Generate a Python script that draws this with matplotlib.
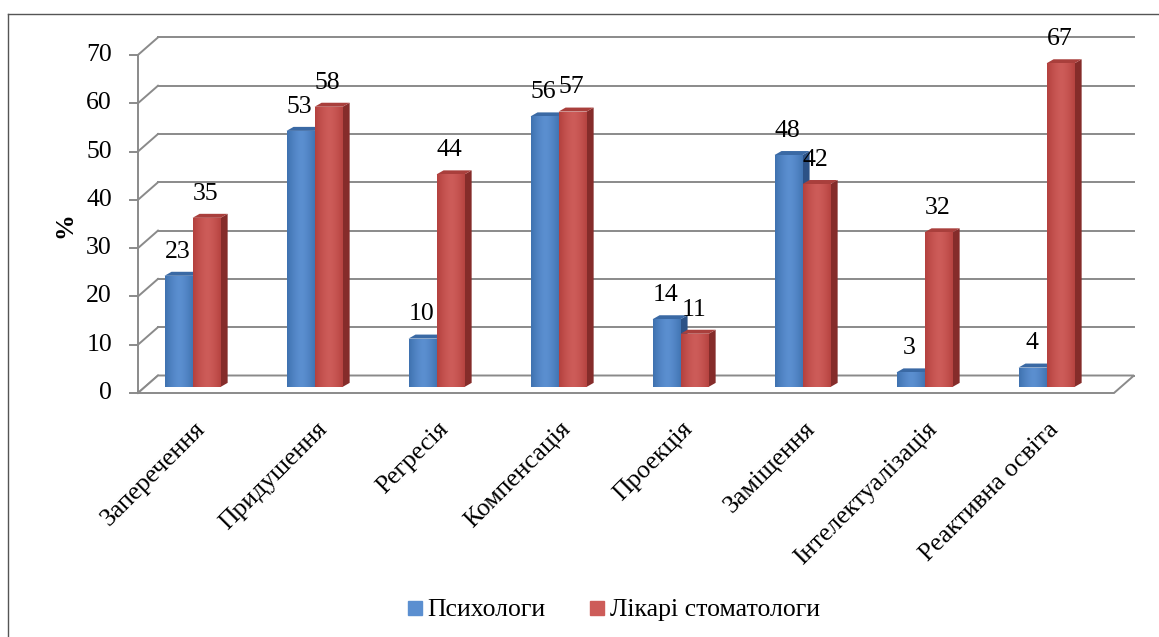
import numpy as np
import matplotlib.pyplot as plt
from matplotlib.patches import Polygon
from matplotlib.lines import Line2D

categories = ["Заперечення", "Придушення", "Регресія", "Компенсація",
              "Проекція", "Заміщення", "Інтелектуалізація", "Реактивна освіта"]
psychologists = [23, 53, 10, 56, 14, 48, 3, 4]
dentists = [35, 58, 44, 57, 11, 42, 32, 67]
series_names = ["Психологи", "Лікарі стоматологи"]
yticks = [0, 10, 20, 30, 40, 50, 60, 70]

plt.rcParams['font.family'] = ['Liberation Serif', 'DejaVu Serif']
FS = 18.5

W, H = 1159, 637
fig = plt.figure(figsize=(W / 100, H / 100), dpi=100)
ax = fig.add_axes([0, 0, 1, 1])

# one category = 122 px, one percent = 4.83 px, origin at pixel (138, 393)
PXX, PXY = 122.0, 4.83
ax.set_xlim(-138 / PXX, (W - 138) / PXX)
ax.set_ylim(-(H - 393) / PXY, 393 / PXY)
ax.axis('off')

n = len(categories)
DX, DY = 20 / PXX, 17.5 / PXY        # floor / wall depth
F = 0.35                              # depth position of bars
BDX, BDY = 7 / PXX, 4 / PXY           # bar thickness in depth
BW = 0.23
grid_c = '#8a8a8a'
glw = 1.4

# back wall gridlines + left diagonals
for v in yticks:
    ax.plot([DX, n + DX], [v + DY, v + DY], color=grid_c, lw=glw, zorder=1)
    ax.plot([0, DX], [v, v + DY], color=grid_c, lw=glw, zorder=1)
    ax.plot([-8 / PXX, 0], [v, v], color=grid_c, lw=glw, zorder=1)
    ax.text(-26 / PXX, v, str(v), ha='right', va='center', fontsize=FS)
ax.plot([0, 0], [0, yticks[-1]], color=grid_c, lw=glw, zorder=1)

# floor
ax.add_patch(Polygon([[0, 0], [n, 0], [n + DX, DY], [DX, DY]], closed=True,
                     facecolor='white', edgecolor=grid_c, lw=glw, zorder=1.5))

ax.text(-73 / PXX, 34.8, "%", rotation=90, ha='center', va='center',
        fontsize=FS, fontweight='bold')

styles = [
    dict(front=('#3f72b0', '#5b8fd0'), side='#2c5286', top='#3a69a4'),
    dict(front=('#b4413e', '#cd5c59'), side='#852c2a', top='#a93f3c'),
]


def draw_bar(x0, v, st, z):
    bx, by = x0 + F * DX, F * DY
    front = [[bx, by], [bx + BW, by], [bx + BW, by + v], [bx, by + v]]
    side = [[bx + BW, by], [bx + BW + BDX, by + BDY],
            [bx + BW + BDX, by + v + BDY], [bx + BW, by + v]]
    top = [[bx, by + v], [bx + BW, by + v],
           [bx + BW + BDX, by + v + BDY], [bx + BDX, by + v + BDY]]
    ax.add_patch(Polygon(side, closed=True, facecolor=st['side'], edgecolor='none', zorder=z))
    ax.add_patch(Polygon(top, closed=True, facecolor=st['top'], edgecolor='none', zorder=z))
    fp = Polygon(front, closed=True, facecolor=st['front'][0], edgecolor='none', zorder=z)
    ax.add_patch(fp)
    # horizontal shading on the front face
    c0 = np.array(plt.matplotlib.colors.to_rgb(st['front'][0]))
    c1 = np.array(plt.matplotlib.colors.to_rgb(st['front'][1]))
    t = np.abs(np.linspace(-1, 1, 40))
    grad = (c1[None, :] * (1 - t[:, None] ** 1.5) + c0[None, :] * t[:, None] ** 1.5)[None, :, :]
    im = ax.imshow(grad, extent=[bx, bx + BW, by, by + v], aspect='auto',
                   zorder=z + 0.01, interpolation='bilinear')
    im.set_clip_path(fp)
    return bx + BW / 2, by + v


for i in range(n):
    x0 = i + 0.16
    for k, vals in enumerate([psychologists, dentists]):
        cx, ty = draw_bar(x0 + k * BW, vals[i], styles[k], 2 + i + k * 0.1)
        ax.text(cx - 1 / PXX, ty + 5.0, str(vals[i]), ha='center', va='center',
                fontsize=FS, zorder=20)
    ax.text(i + 0.52, -6.8, categories[i], rotation=45, rotation_mode='anchor',
            ha='right', va='center', fontsize=FS)

handles = [Line2D([], [], marker='s', ls='none', ms=10, color=styles[k]['front'][1])
           for k in range(2)]
fig.legend(handles, series_names, loc='center', bbox_to_anchor=(612 / W, 1 - 610 / H),
           ncol=2, frameon=False, fontsize=FS, handletextpad=0.1, columnspacing=1.6,
           handlelength=0.8)

# outer frame (left and top)
fig.add_artist(Line2D([8 / W, 8 / W], [0, 1 - 14 / H], color='#555555', lw=1))
fig.add_artist(Line2D([8 / W, 1], [1 - 14 / H, 1 - 14 / H], color='#555555', lw=1))

fig.savefig('out.png', dpi=100)
